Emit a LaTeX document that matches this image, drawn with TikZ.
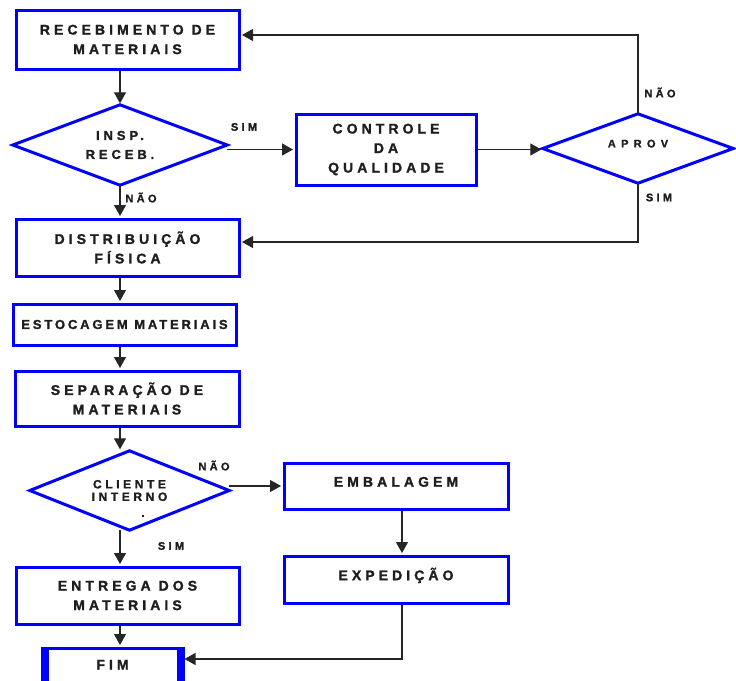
\documentclass[tikz,border=0pt]{standalone}
\usepackage{fontspec}
\newfontfamily\lsA{Liberation Sans Bold}[LetterSpace=29, FakeBold=1.5]
\newfontfamily\lsB{Liberation Sans Bold}[LetterSpace=22, FakeBold=1.5]
\newfontfamily\lsC{Liberation Sans Bold}[LetterSpace=48, FakeBold=1.5]
\newfontfamily\lsD{Liberation Sans Bold}[LetterSpace=30, FakeBold=1.5]
\usetikzlibrary{arrows.meta}
\definecolor{boxblue}{RGB}{0,0,255}
\definecolor{txt}{RGB}{30,30,30}
\begin{document}
\begin{tikzpicture}[x=1pt,y=-1pt,
  box/.style={draw=boxblue, line width=3pt, rectangle, inner sep=0pt, align=center, text=txt,
              font=\lsA\fontsize{14}{19.5}\selectfont},
  dia/.style={draw=none, inner sep=0pt, align=center, text=txt},
  conn/.style={draw=black!85, line width=1.2pt},
  arr/.style={conn, -{Triangle[length=11pt,width=12pt]}, shorten >=1.5pt},
  lab/.style={text=txt, font=\lsD\fontsize{11}{12}\selectfont, inner sep=0pt},
  dshape/.style={draw=boxblue, line width=3pt, line join=miter}
]
\useasboundingbox (0,0) rectangle (736,680);

% nodes
\node[box, minimum width=223pt, minimum height=59pt] (rec) at (127.5,39.5) {RECEBIMENTO DE\\MATERIAIS};
\node[dia, minimum width=214pt, minimum height=80pt, font=\lsD\fontsize{13}{19}\selectfont] (insp) at (120,145) {INSP.\\RECEB.};
\node[box, minimum width=180pt, minimum height=71pt] (ctrl) at (386,149.5) {CONTROLE\\DA\\QUALIDADE};
\node[dia, minimum width=190pt, minimum height=69pt, font=\lsC\fontsize{11}{12}\selectfont, text height=8pt, text depth=10.2pt] (aprov) at (638,148.5) {APROV};
\node[box, minimum width=223pt, minimum height=57pt] (dist) at (127.5,247.5) {DISTRIBUIÇÃO\\FÍSICA};
\node[box, minimum width=223pt, minimum height=41pt, font=\lsB\fontsize{13}{15}\selectfont] (estoc) at (124.5,324.5) {ESTOCAGEM MATERIAIS};
\node[box, minimum width=224pt, minimum height=55pt] (separ) at (127,398.5) {SEPARAÇÃO DE\\MATERIAIS};
\node[dia, minimum width=199pt, minimum height=79pt, font=\lsD\fontsize{12}{12.5}\selectfont] (cliente) at (129.5,490.5) {CLIENTE\\INTERNO};
\node[box, minimum width=224pt, minimum height=46pt, text height=10pt, text depth=8.6pt] (embal) at (396,486) {EMBALAGEM};
\node[box, minimum width=224pt, minimum height=47pt, text height=10pt, text depth=8.6pt] (exped) at (396,579.5) {EXPEDIÇÃO};
\node[box, minimum width=223pt, minimum height=57pt] (entrega) at (127.5,595.5) {ENTREGA DOS\\MATERIAIS};
\node[box, minimum width=138pt, minimum height=40pt, text height=10pt, text depth=7pt] (fim) at (112.5,668) {FIM};

% thick sides of FIM
\fill[boxblue] ([xshift=-1.5pt]fim.north west) rectangle ([xshift=6.5pt]fim.south west);
\fill[boxblue] ([xshift=-6.5pt]fim.north east) rectangle ([xshift=1.5pt]fim.south east);

% diamonds
\draw[dshape] (insp.north) -- (insp.east) -- (insp.south) -- (insp.west) -- cycle;
\draw[dshape] (aprov.north) -- (aprov.east) -- (aprov.south) -- (aprov.west) -- cycle;
\draw[dshape] (cliente.north) -- (cliente.east) -- (cliente.south) -- (cliente.west) -- cycle;

% labels
\node[lab] (simA) at (244,127) {SIM};
\node[lab] (naoA) at (141,197.5) {NÃO};
\node[lab] (naoB) at (660,92.5) {NÃO};
\node[lab] (simB) at (659,197.5) {SIM};
\node[lab] (naoC) at (214,465.5) {NÃO};
\node[lab] (simC) at (171,546) {SIM};
\node[lab] (dot) at (143,516) {.};

% connectors
\draw[arr] (insp.north |- rec.south) -- (insp.north);
\draw[arr] (insp.east |- ctrl.west) -- (ctrl.west);
\draw[arr] (ctrl.east) -- (ctrl.east -| aprov.west);
\draw[arr] (aprov.north) |- ([yshift=4.5pt]rec.east);
\draw[arr] (aprov.south) |- ([yshift=5.5pt]dist.east);
\draw[arr] (insp.south) -- (insp.south |- dist.north);
\draw[arr] (insp.south |- dist.south) -- (insp.south |- estoc.north);
\draw[arr] (insp.south |- estoc.south) -- (insp.south |- separ.north);
\draw[arr] (insp.south |- separ.south) -- (insp.south |- cliente.north);
\draw[arr] (cliente.east |- embal.west) -- (embal.west);
\draw[arr] ([xshift=6pt]embal.south) -- ([xshift=6pt]exped.north);
\draw[arr] (insp.south |- cliente.south) -- (insp.south |- entrega.north);
\draw[arr] (insp.south |- entrega.south) -- (insp.south |- fim.north);
\draw[arr] ([xshift=6pt]exped.south) |- ([yshift=9pt]fim.east);
\end{tikzpicture}
\end{document}
